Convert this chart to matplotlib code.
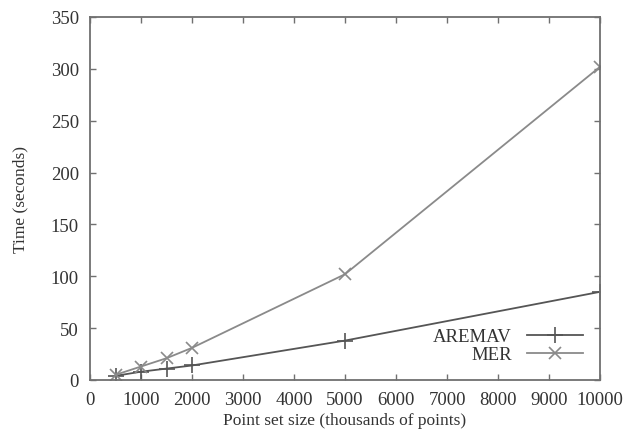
import matplotlib
matplotlib.use("Agg")
import matplotlib.pyplot as plt

sizes = [500, 1000, 1500, 2000, 5000, 10000]
aremav = [4, 8, 11, 14, 38, 85]
mer = [5, 13, 21, 31, 102, 302]
xticks = [0, 1000, 2000, 3000, 4000, 5000, 6000, 7000, 8000, 9000, 10000]
yticks = [0, 50, 100, 150, 200, 250, 300, 350]

plt.rcParams['font.family'] = ['Liberation Serif', 'DejaVu Serif']
fig = plt.figure(figsize=(6.23, 4.35), dpi=100)
ax = fig.add_axes([90/623, 1-381/435, 510/623, 363/435])

gray = '#707070'
ax.plot(sizes, aremav, color='#555555', lw=1.3, marker='+', ms=11, mew=1.2, label='AREMAV')
ax.plot(sizes, mer, color='#8a8a8a', lw=1.3, marker='x', ms=9, mew=1.2, label='MER')

ax.set_xlim(0, 10000)
ax.set_ylim(0, 350)
ax.set_xticks(xticks)
ax.set_yticks(yticks)
ax.tick_params(direction='in', top=True, right=True, length=4, width=1, colors=gray,
               labelcolor='#333333', labelsize=13.5)
ax.tick_params(axis='x', pad=8)
ax.tick_params(axis='y', pad=8)
for s in ax.spines.values():
    s.set_color(gray)
    s.set_linewidth(1.3)
ax.set_xlabel('Point set size (thousands of points)', fontsize=12.5, color='#333333', labelpad=3)
ax.set_ylabel('Time (seconds)', fontsize=12.5, color='#333333', labelpad=16)
leg = ax.legend(loc='lower right', frameon=False, markerfirst=False, fontsize=13.5,
                handlelength=3, borderaxespad=0.5, labelspacing=0.05)
for t in leg.get_texts():
    t.set_color('#333333')
fig.savefig('out.png', dpi=100)
